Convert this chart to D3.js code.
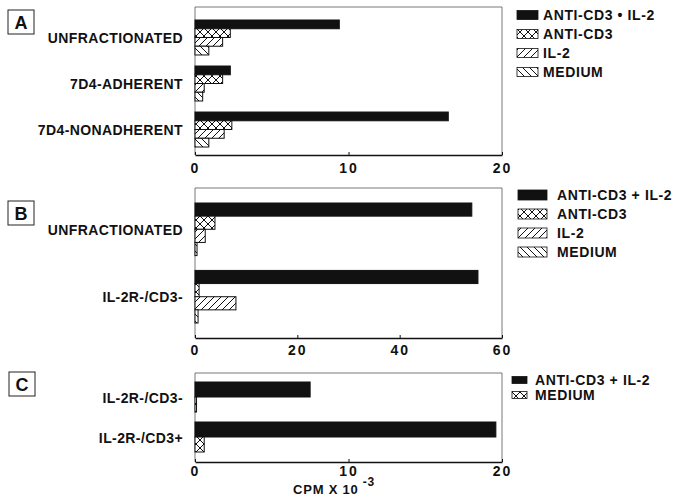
<!DOCTYPE html>
<html>
<head>
<meta charset="utf-8">
<script src="https://cdnjs.cloudflare.com/ajax/libs/d3/7.8.5/d3.min.js"></script>
<style>
  body { margin: 0; background: #fff; }
  text { font-family: "Liberation Sans", Arial, sans-serif; font-weight: bold; fill: #111; }
</style>
</head>
<body>
<div id="chart"></div>
<script>
// Data (CPM x 10^-3)
// ==========================================
// Panel A
var categoriesA = ["UNFRACTIONATED", "7D4-ADHERENT", "7D4-NONADHERENT"];
var seriesNamesA = ["ANTI-CD3 • IL-2", "ANTI-CD3", "IL-2", "MEDIUM"];
var antiCd3Il2A = [9.4, 2.3, 16.5];
var antiCd3A = [2.3, 1.8, 2.4];
var il2A = [1.8, 0.6, 1.9];
var mediumA = [0.9, 0.5, 0.9];
var ticksA = [0, 10, 20];

// Panel B
var categoriesB = ["UNFRACTIONATED", "IL-2R-/CD3-"];
var seriesNamesB = ["ANTI-CD3 + IL-2", "ANTI-CD3", "IL-2", "MEDIUM"];
var antiCd3Il2B = [54.1, 55.3];
var antiCd3B = [3.9, 0.8];
var il2B = [2.0, 8.0];
var mediumB = [0.4, 0.6];
var ticksB = [0, 20, 40, 60];

// Panel C
var categoriesC = ["IL-2R-/CD3-", "IL-2R-/CD3+"];
var seriesNamesC = ["ANTI-CD3 + IL-2", "MEDIUM"];
var antiCd3Il2C = [7.5, 19.6];
var mediumC = [0.1, 0.6];
var ticksC = [0, 10, 20];

var svgWidth = 678;
var svgHeight = 498;

var svg = d3.select("#chart")
  .append("svg")
  .attr("width", svgWidth)
  .attr("height", svgHeight);

// Hatch patterns
// ==========================================
var defs = svg.append("defs");

function addPattern(id, size, d) {
  var p = defs.append("pattern")
    .attr("id", id)
    .attr("patternUnits", "userSpaceOnUse")
    .attr("width", size)
    .attr("height", size);
  p.append("rect").attr("width", size).attr("height", size).attr("fill", "#fff");
  p.append("path").attr("d", d).attr("stroke", "#111").attr("stroke-width", 1).attr("fill", "none");
}
addPattern("cross", 8, "M0,0L8,8M0,8L8,0");
addPattern("slash", 7, "M0,7L7,0M-1,1L1,-1M6,8L8,6");
addPattern("backslash", 7, "M0,0L7,7M-1,6L1,8M6,-1L8,1");

var fills = {
  solid: "#111",
  cross: "url(#cross)",
  slash: "url(#slash)",
  backslash: "url(#backslash)"
};

// Draw one panel
// ==========================================
function drawPanel(cfg) {
  var x = d3.scaleLinear()
    .domain([0, cfg.ticks[cfg.ticks.length - 1]])
    .range([cfg.left, cfg.right]);

  var y0 = d3.scaleBand()
    .domain(cfg.categories)
    .range(cfg.bandRange)
    .paddingInner(cfg.bandPad)
    .paddingOuter(0);

  var keys = cfg.series.map(function(s, i) { return i; });
  var y1 = d3.scaleBand()
    .domain(keys)
    .range([0, y0.bandwidth()])
    .padding(0);

  var g = svg.append("g");

  // frame
  g.append("path")
    .attr("d", `M${cfg.left},${cfg.bottom}V${cfg.top}H${cfg.right}V${cfg.bottom}`)
    .attr("fill", "none")
    .attr("stroke", "#555")
    .attr("stroke-width", 0.8);

  // bars
  cfg.series.forEach(function(s, i) {
    g.selectAll(null)
      .data(s.values)
      .enter()
      .append("rect")
      .attr("x", x(0))
      .attr("y", function(d, j) { return y0(cfg.categories[j]) + y1(i); })
      .attr("width", function(d) { return x(d) - x(0); })
      .attr("height", y1.bandwidth())
      .attr("fill", fills[s.fill])
      .attr("stroke", "#111")
      .attr("stroke-width", 1);
  });

  // bottom axis
  var axis = g.append("g")
    .attr("transform", `translate(0, ${cfg.bottom})`)
    .call(d3.axisBottom(x).tickValues(cfg.ticks).tickFormat(d3.format("d"))
      .tickSizeInner(-3).tickSizeOuter(0).tickPadding(cfg.tickPad));
  axis.select(".domain").attr("stroke", "#111").attr("stroke-width", 1.4);
  axis.selectAll(".tick line").attr("stroke", "#111");
  axis.selectAll("text")
    .attr("fill", "#111")
    .style("font-size", "14px")
    .style("font-family", "'Liberation Sans', Arial, sans-serif")
    .style("font-weight", "bold")
    .style("letter-spacing", "2px");

  // category labels
  g.selectAll(null)
    .data(cfg.categories)
    .enter()
    .append("text")
    .attr("x", 183)
    .attr("y", function(d) { return y0(d) + y0.bandwidth() / 2 + 2; })
    .attr("dominant-baseline", "middle")
    .attr("text-anchor", "end")
    .style("font-size", "14px")
    .style("letter-spacing", "0.4px")
    .text(function(d) { return d; });

  // panel letter in a box
  g.append("rect")
    .attr("x", cfg.box[0])
    .attr("y", cfg.box[1])
    .attr("width", 26)
    .attr("height", 24)
    .attr("fill", "none")
    .attr("stroke", "#222")
    .attr("stroke-width", 1);
  g.append("text")
    .attr("x", cfg.box[0] + 13)
    .attr("y", cfg.box[1] + 19)
    .attr("text-anchor", "middle")
    .style("font-size", "18px")
    .text(cfg.letter);

  // legend
  var lg = g.append("g");
  cfg.series.forEach(function(s, i) {
    var ly = cfg.legend.y + i * cfg.legend.dy;
    lg.append("rect")
      .attr("x", cfg.legend.x)
      .attr("y", ly - cfg.legend.h / 2)
      .attr("width", cfg.legend.w)
      .attr("height", cfg.legend.h)
      .attr("fill", fills[s.fill])
      .attr("stroke", "#111")
      .attr("stroke-width", 0.8);
    lg.append("text")
      .attr("x", cfg.legend.textX)
      .attr("y", ly + 1)
      .attr("dominant-baseline", "middle")
      .style("font-size", "14px")
      .style("letter-spacing", "0.6px")
      .text(s.name);
  });
}

drawPanel({
  letter: "A", box: [8, 10],
  top: 7, bottom: 155, left: 195, right: 502, tickPad: 8,
  ticks: ticksA, categories: categoriesA,
  bandRange: [20, 147], bandPad: 0.24,
  series: [
    { name: seriesNamesA[0], values: antiCd3Il2A, fill: "solid" },
    { name: seriesNamesA[1], values: antiCd3A, fill: "cross" },
    { name: seriesNamesA[2], values: il2A, fill: "slash" },
    { name: seriesNamesA[3], values: mediumA, fill: "backslash" }
  ],
  legend: { x: 517, y: 15, dy: 19, w: 21, h: 9, textX: 543 }
});

drawPanel({
  letter: "B", box: [8, 201],
  top: 188, bottom: 338, left: 195, right: 502, tickPad: 7,
  ticks: ticksB, categories: categoriesB,
  bandRange: [203, 323], bandPad: 0.22,
  series: [
    { name: seriesNamesB[0], values: antiCd3Il2B, fill: "solid" },
    { name: seriesNamesB[1], values: antiCd3B, fill: "cross" },
    { name: seriesNamesB[2], values: il2B, fill: "slash" },
    { name: seriesNamesB[3], values: mediumB, fill: "backslash" }
  ],
  legend: { x: 518, y: 195, dy: 19, w: 29, h: 10, textX: 557 }
});

drawPanel({
  letter: "C", box: [9, 372],
  top: 373, bottom: 462, left: 195, right: 502, tickPad: 4,
  ticks: ticksC, categories: categoriesC,
  bandRange: [382, 452], bandPad: 0.25,
  series: [
    { name: seriesNamesC[0], values: antiCd3Il2C, fill: "solid" },
    { name: seriesNamesC[1], values: mediumC, fill: "cross" }
  ],
  legend: { x: 512, y: 380, dy: 15, w: 15, h: 7, textX: 535 }
});

// x axis title
var title = svg.append("text")
  .attr("x", 293)
  .attr("y", 494)
  .style("font-size", "13px")
  .style("letter-spacing", "0.8px");
title.append("tspan").text("CPM X 10");
title.append("tspan")
  .attr("dx", 4)
  .attr("dy", -8)
  .style("font-size", "12px")
  .text("-3");
</script>
</body>
</html>
